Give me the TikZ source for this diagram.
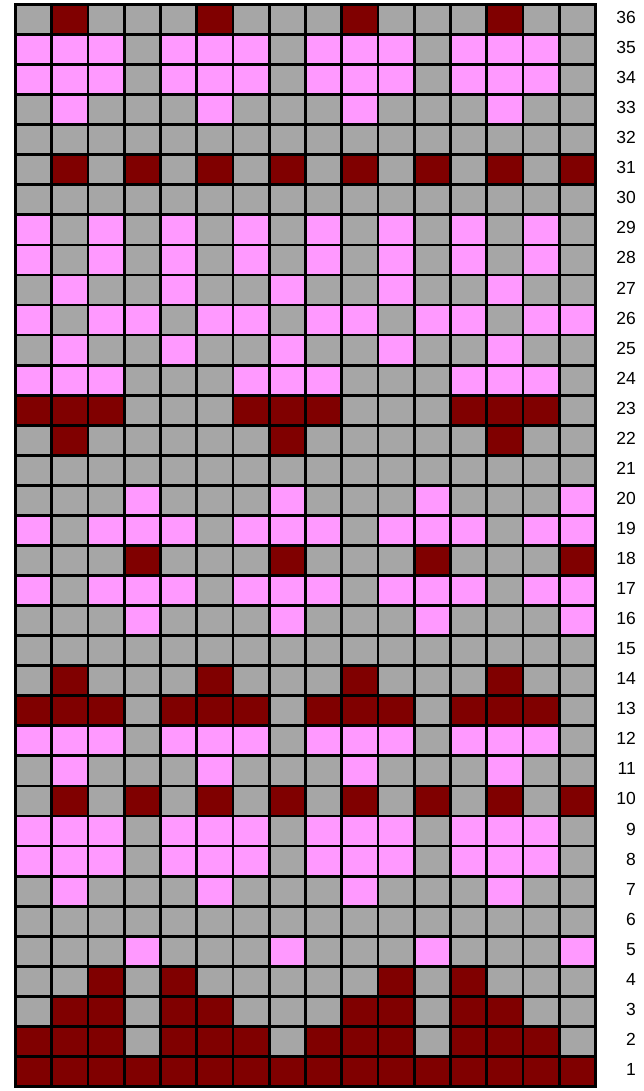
\documentclass[tikz,border=0pt]{standalone}
\usepackage{fontspec}
\setmainfont{Liberation Sans}
\definecolor{cellG}{HTML}{A6A6A6}
\definecolor{cellR}{HTML}{800000}
\definecolor{cellP}{HTML}{FF99FF}
\tikzset{
  gridline/.style={line width=2.8pt, black},
  rowlabel/.style={anchor=base east, inner sep=0pt, font=\fontsize{17.5}{20}\selectfont}
}
\begin{document}
\begin{tikzpicture}[x=1pt,y=1pt]
\useasboundingbox (0,0) rectangle (644,1091);
\pgfmathsetmacro{\cw}{36.25}
\pgfmathsetmacro{\ch}{30.0556}
\foreach \r/\pat in {
36/{G,R,G,G,G,R,G,G,G,R,G,G,G,R,G,G},
35/{P,P,P,G,P,P,P,G,P,P,P,G,P,P,P,G},
34/{P,P,P,G,P,P,P,G,P,P,P,G,P,P,P,G},
33/{G,P,G,G,G,P,G,G,G,P,G,G,G,P,G,G},
32/{G,G,G,G,G,G,G,G,G,G,G,G,G,G,G,G},
31/{G,R,G,R,G,R,G,R,G,R,G,R,G,R,G,R},
30/{G,G,G,G,G,G,G,G,G,G,G,G,G,G,G,G},
29/{P,G,P,G,P,G,P,G,P,G,P,G,P,G,P,G},
28/{P,G,P,G,P,G,P,G,P,G,P,G,P,G,P,G},
27/{G,P,G,G,P,G,G,P,G,G,P,G,G,P,G,G},
26/{P,G,P,P,G,P,P,G,P,P,G,P,P,G,P,P},
25/{G,P,G,G,P,G,G,P,G,G,P,G,G,P,G,G},
24/{P,P,P,G,G,G,P,P,P,G,G,G,P,P,P,G},
23/{R,R,R,G,G,G,R,R,R,G,G,G,R,R,R,G},
22/{G,R,G,G,G,G,G,R,G,G,G,G,G,R,G,G},
21/{G,G,G,G,G,G,G,G,G,G,G,G,G,G,G,G},
20/{G,G,G,P,G,G,G,P,G,G,G,P,G,G,G,P},
19/{P,G,P,P,P,G,P,P,P,G,P,P,P,G,P,P},
18/{G,G,G,R,G,G,G,R,G,G,G,R,G,G,G,R},
17/{P,G,P,P,P,G,P,P,P,G,P,P,P,G,P,P},
16/{G,G,G,P,G,G,G,P,G,G,G,P,G,G,G,P},
15/{G,G,G,G,G,G,G,G,G,G,G,G,G,G,G,G},
14/{G,R,G,G,G,R,G,G,G,R,G,G,G,R,G,G},
13/{R,R,R,G,R,R,R,G,R,R,R,G,R,R,R,G},
12/{P,P,P,G,P,P,P,G,P,P,P,G,P,P,P,G},
11/{G,P,G,G,G,P,G,G,G,P,G,G,G,P,G,G},
10/{G,R,G,R,G,R,G,R,G,R,G,R,G,R,G,R},
9/{P,P,P,G,P,P,P,G,P,P,P,G,P,P,P,G},
8/{P,P,P,G,P,P,P,G,P,P,P,G,P,P,P,G},
7/{G,P,G,G,G,P,G,G,G,P,G,G,G,P,G,G},
6/{G,G,G,G,G,G,G,G,G,G,G,G,G,G,G,G},
5/{G,G,G,P,G,G,G,P,G,G,G,P,G,G,G,P},
4/{G,G,R,G,R,G,G,G,G,G,R,G,R,G,G,G},
3/{G,R,R,G,R,R,G,G,G,R,R,G,R,R,G,G},
2/{R,R,R,G,R,R,R,G,R,R,R,G,R,R,R,G},
1/{R,R,R,R,R,R,R,R,R,R,R,R,R,R,R,R}} {
  \foreach \c [count=\i] in \pat {
    \fill[cell\c] ({15.5+(\i-1)*\cw},{4.5+(\r-1)*\ch}) rectangle ++(\cw,\ch);
  }
  \node[rowlabel] (lbl\r) at (636,{4.5+(\r-0.5)*\ch-4}) {\r};
}
\foreach \i in {1,...,15} {
  \draw[gridline] ({15.5+\i*\cw},4.5) -- ({15.5+\i*\cw},1086.5);
}
\foreach \j in {1,...,35} {
  \draw[gridline] (15.5,{4.5+\j*\ch}) -- (595.5,{4.5+\j*\ch});
}
\draw[gridline, line join=miter] (15.5,4.5) rectangle (595.5,1086.5);
\end{tikzpicture}
\end{document}
